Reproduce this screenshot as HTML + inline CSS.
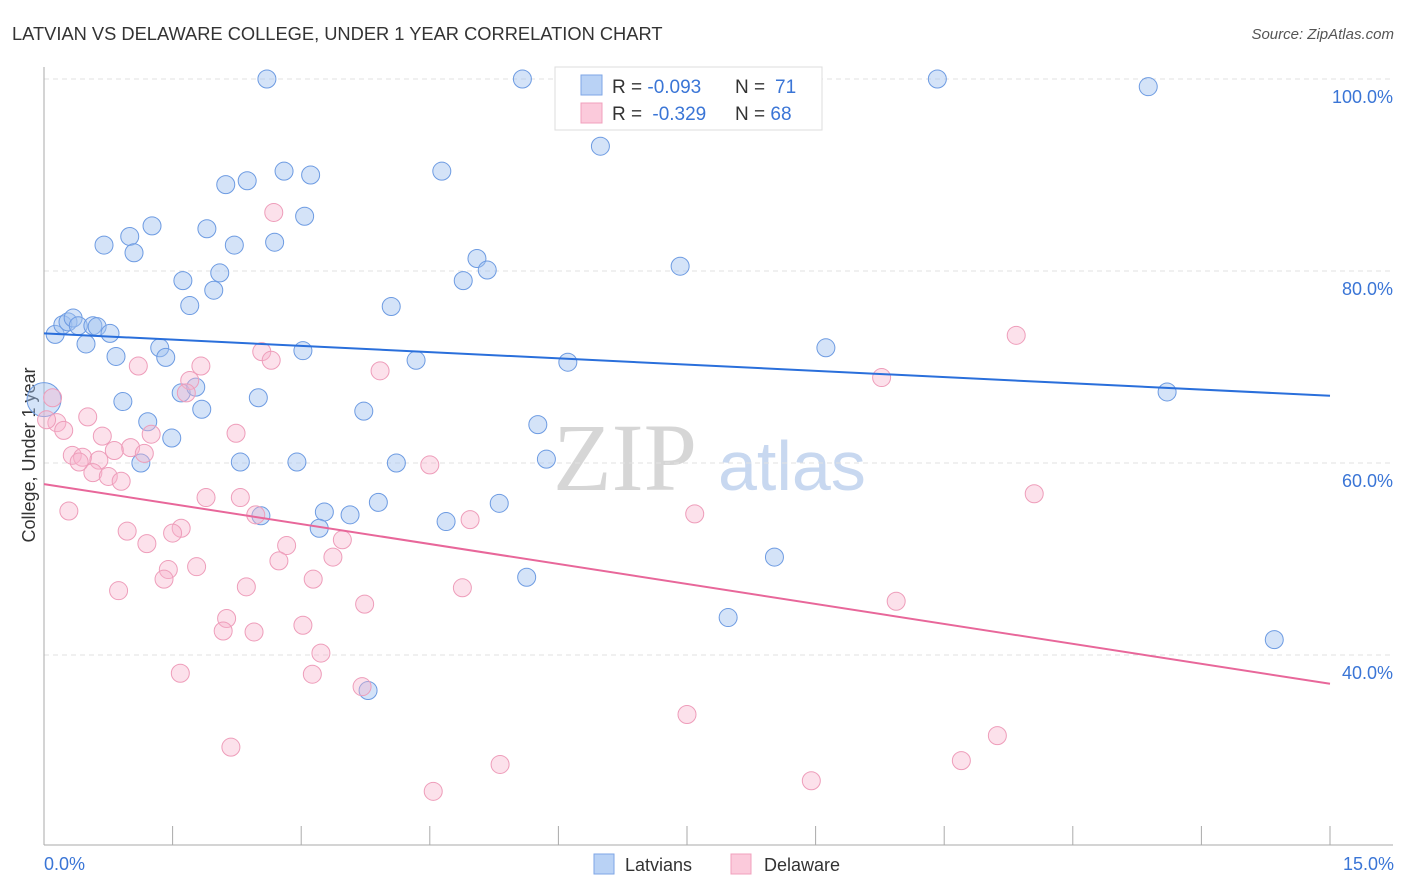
<!DOCTYPE html>
<html><head><meta charset="utf-8"><style>
body{margin:0;background:#fff;font-family:"Liberation Sans",sans-serif;}
svg{display:block}
</style></head><body>
<svg width="1406" height="892" id="chart">
<text x="12" y="40" font-size="18.3" fill="#333">LATVIAN VS DELAWARE COLLEGE, UNDER 1 YEAR CORRELATION CHART</text>
<text x="1394" y="39" font-size="15" fill="#555" font-style="italic" text-anchor="end">Source: ZipAtlas.com</text>
<g>
<text x="553" y="490" font-family="Liberation Serif,serif" font-size="96" fill="#d6d6d6">ZIP</text>
<text x="718" y="490" font-size="70" fill="#c8d8f0">atlas</text>
</g>
<g id="grid"></g>
<line x1="44" y1="67" x2="44" y2="845" stroke="#aaa"/>
<line x1="44" y1="845" x2="1393" y2="845" stroke="#aaa"/>
<g id="xticks"></g>
<text x="35" y="455" font-size="18" fill="#333" text-anchor="middle" transform="rotate(-90 35 455)">College, Under 1 year</text>
<text x="44" y="870" font-size="18" fill="#3a75d6">0.0%</text>
<text x="1394" y="870" font-size="18" fill="#3a75d6" text-anchor="end">15.0%</text>
<g id="points"></g>
<g id="lines"></g>
<g>
<rect x="555" y="67" width="267" height="63" fill="#fff" stroke="#ddd"/>
<rect x="581" y="75" width="21" height="20" fill="#b9d2f5" stroke="#7ea6e6"/>
<rect x="581" y="103" width="21" height="20" fill="#fbcadb" stroke="#f0a0bd"/>
<text x="612" y="93" font-size="19" fill="#333">R = <tspan fill="#3a75d6">-0.093</tspan><tspan x="735">N = </tspan><tspan x="775" fill="#3a75d6">71</tspan></text>
<text x="612" y="120" font-size="19" fill="#333">R = <tspan fill="#3a75d6" dx="5">-0.329</tspan><tspan x="735">N = </tspan><tspan fill="#3a75d6">68</tspan></text>
</g>
<g><rect x="594" y="854" width="20" height="20" fill="#b9d2f5" stroke="#7ea6e6"/><text x="625" y="871" font-size="18" fill="#333">Latvians</text></g>
<g><rect x="731" y="854" width="20" height="20" fill="#fbcadb" stroke="#f0a0bd"/><text x="764" y="871" font-size="18" fill="#333">Delaware</text></g>
</svg>
<script>
const yTicks=[40,60,80,100];
const yTickLabels=["40.0%","60.0%","80.0%","100.0%"];
const xTicks=[0,1.5,3,4.5,6,7.5,9,10.5,12,13.5,15];
const blueX=[2.60,5.58,10.42,12.88,6.49,4.64,2.80,3.11,2.12,2.37,3.04,1.26,1.90,1.00,0.70,2.22,2.69,1.05,5.05,5.17,7.42,2.05,1.62,4.89,1.98,1.70,4.05,0.13,0.22,0.28,0.34,0.40,0.57,0.62,0.77,0.49,1.35,1.42,0.84,3.02,4.34,6.11,9.12,13.10,1.60,1.77,0.92,2.50,1.84,3.73,1.21,5.76,1.49,1.13,2.29,2.95,4.11,5.86,3.90,3.27,3.57,2.53,3.21,4.69,5.31,5.63,8.52,7.98,14.35,3.78,0.0];
const blueY=[100,100,100,99.2,93.0,90.4,90.4,90.0,89.0,89.4,85.7,84.7,84.4,83.6,82.7,82.7,83.0,81.9,81.3,80.1,80.5,79.8,79.0,79.0,78.0,76.4,76.3,73.4,74.4,74.7,75.1,74.3,74.3,74.2,73.5,72.4,72.0,71.0,71.1,71.7,70.7,70.5,72.0,67.4,67.3,67.9,66.4,66.8,65.6,65.4,64.3,64.0,62.6,60.0,60.1,60.1,60.0,60.4,55.9,54.9,54.6,54.5,53.2,53.9,55.8,48.1,50.2,43.9,41.6,36.3,66.6];
const pinkX=[2.68,11.34,2.54,2.65,1.83,1.10,1.70,1.66,3.92,9.77,0.10,0.15,0.51,0.23,0.03,2.24,1.25,0.68,1.01,0.82,0.33,0.45,0.41,0.64,1.17,0.57,0.75,0.90,4.50,11.55,0.29,1.89,2.29,4.97,7.59,2.47,0.97,1.60,1.50,1.20,3.48,2.83,2.74,3.37,1.45,1.78,1.40,3.14,2.36,4.88,0.87,3.74,9.94,2.13,3.02,2.09,2.45,3.23,1.59,3.13,3.71,7.50,11.12,2.18,10.70,5.32,8.95,4.54];
const pinkY=[86.1,73.3,71.6,70.7,70.1,70.1,68.6,67.3,69.6,68.9,66.8,64.2,64.8,63.4,64.5,63.1,63.0,62.8,61.6,61.3,60.8,60.6,60.1,60.3,61.0,59.0,58.6,58.1,59.8,56.8,55.0,56.4,56.4,54.1,54.7,54.6,52.9,53.2,52.7,51.6,52.0,51.4,49.8,50.2,48.9,49.2,47.9,47.9,47.1,47.0,46.7,45.3,45.6,43.8,43.1,42.5,42.4,40.2,38.1,38.0,36.7,33.8,31.6,30.4,29.0,28.6,26.9,25.8];
const trendStart=[73.5,57.8];
const trendEnd=[67.0,37.0];
const NS="http://www.w3.org/2000/svg";
const X=v=>44+v/15*1286;
const Y=v=>79+(100-v)*9.6;
function mk(t,a,p){const e=document.createElementNS(NS,t);for(const k in a)e.setAttribute(k,a[k]);p.appendChild(e);return e;}
const grid=document.getElementById('grid');
yTicks.forEach((t,i)=>{
 const l=mk('line',{x1:44,x2:1393,y1:Y(t),y2:Y(t),stroke:'#e2e2e2','stroke-dasharray':'5,4'},grid);
 
 
 const tx=mk('text',{x:1393,y:Y(t)+24,'font-size':18,fill:'#3a75d6','text-anchor':'end'},grid);
 tx.textContent=yTickLabels[i];
 
 
});
const xt=document.getElementById('xticks');
xTicks.forEach(t=>{
 const l=mk('line',{x1:X(t),x2:X(t),y1:826,y2:845,stroke:'#aaa'},xt);
 
 
});
const pts=document.getElementById('points');
blueX.forEach((v,i)=>{
 const c=mk('circle',{cx:X(v),cy:Y(blueY[i]),r:i==blueX.length-1?17:9,fill:'rgba(160,192,240,0.45)',stroke:'#6d9be2','stroke-width':1},pts);
 
 
});
pinkX.forEach((v,i)=>{
 const c=mk('circle',{cx:X(v),cy:Y(pinkY[i]),r:9,fill:'rgba(247,180,204,0.4)',stroke:'#ee9dba','stroke-width':1},pts);
 
 
});
const ln=document.getElementById('lines');
const cols=['#2a6fdb','#e8679a'];
const names=['latvians-trend-line','delaware-trend-line'];
trendStart.forEach((s,i)=>{
 const l=mk('line',{x1:X(0),y1:Y(s),x2:X(15),y2:Y(trendEnd[i]),stroke:cols[i],'stroke-width':2},ln);
 
 
});
</script>
</body></html>
